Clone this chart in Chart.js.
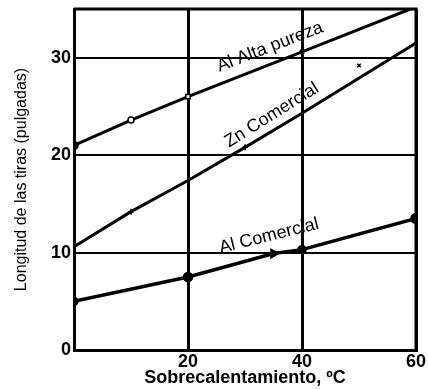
<!DOCTYPE html>
<html>
<head>
<meta charset="utf-8">
<script src="https://cdn.jsdelivr.net/npm/chart.js@4/dist/chart.umd.min.js"></script>
<style>
  html, body { margin: 0; padding: 0; background: #fff; }
  #wrap { width: 428px; height: 389px; }
</style>
</head>
<body>
<div id="wrap"><canvas id="c"></canvas></div>
<script>
// values
const xTicks = [20, 40, 60];
const yTicks = [0, 10, 20, 30];

const alAltaX = [0, 10, 20, 40, 59];
const alAltaY = [21, 23.6, 26, 30.6, 35];

const znX = [0, 10, 20, 30, 40, 60];
const znY = [10.6, 14.2, 17.4, 20.8, 24.3, 31.5];

const alComX = [0, 20, 35, 40, 60];
const alComY = [5, 7.5, 9.9, 10.3, 13.5];

const znExtraX = [50];
const znExtraY = [29.2];

const labels = [
  { text: 'Al Alta pureza', x: 34.4, y: 31.1, angle: -21 },
  { text: 'Zn Comercial', x: 34.7, y: 24.1, angle: -32 },
  { text: 'Al Comercial', x: 34.2, y: 11.7, angle: -14 },
];

const pts = (xs, ys) => xs.map((x, i) => ({ x, y: ys[i] }));

const lineLabels = {
  id: 'lineLabels',
  afterDatasetsDraw(chart) {
    const { ctx, scales } = chart;
    ctx.save();
    ctx.fillStyle = '#000';
    ctx.font = '18px "Liberation Sans", Arial, sans-serif';
    ctx.textAlign = 'center';
    ctx.textBaseline = 'middle';
    labels.forEach((l) => {
      ctx.save();
      ctx.translate(scales.x.getPixelForValue(l.x), scales.y.getPixelForValue(l.y));
      ctx.rotate(l.angle * Math.PI / 180);
      ctx.fillText(l.text, 0, 0);
      ctx.restore();
    });
    ctx.restore();
  },
};

new Chart(document.getElementById('c'), {
  type: 'scatter',
  data: {
    datasets: [
      {
        data: pts(alAltaX, alAltaY),
        showLine: true,
        borderColor: '#000',
        borderWidth: 3,
        pointStyle: ['circle', 'circle', 'rect', 'crossRot', false],
        pointRadius: [4, 3, 3, 3, 0],
        pointBackgroundColor: ['#000', '#fff', '#fff', '#000', '#000'],
        pointBorderColor: '#000',
        pointBorderWidth: 1.5,
      },
      {
        data: pts(znX, znY),
        showLine: true,
        borderColor: '#000',
        borderWidth: 3,
        pointStyle: ['circle', 'cross', 'circle', 'cross', 'circle', 'circle'],
        pointRadius: [0, 3, 0, 3, 0, 0],
        pointBorderColor: '#000',
        pointBorderWidth: 1.5,
      },
      {
        data: pts(alComX, alComY),
        showLine: true,
        borderColor: '#000',
        borderWidth: 3.5,
        pointStyle: ['circle', 'circle', 'triangle', 'circle', 'circle'],
        pointRadius: [3, 3.5, 3, 3, 4],
        pointRotation: [0, 0, 90, 0, 0],
        pointBackgroundColor: '#000',
        pointBorderColor: '#000',
      },
      {
        data: pts(znExtraX, znExtraY),
        pointStyle: 'crossRot',
        pointRadius: 2.5,
        pointBorderColor: '#000',
        pointBorderWidth: 1.5,
      },
    ],
  },
  options: {
    responsive: true,
    maintainAspectRatio: false,
    animation: false,
    layout: { padding: { top: 0, right: 12, left: 0, bottom: 0 } },
    plugins: { legend: { display: false }, tooltip: { enabled: false } },
    scales: {
      x: {
        type: 'linear',
        min: 0,
        max: 60,
        afterBuildTicks: (s) => { s.ticks = xTicks.map((v) => ({ value: v })); },
        afterFit: (s) => { s.height = 39; },
        grid: { color: '#000', lineWidth: 3, drawTicks: false },
        border: { color: '#000', width: 3 },
        ticks: {
          color: '#000',
          padding: 1,
          font: { family: '"Liberation Sans", Arial, sans-serif', size: 18, weight: 'bold' },
        },
        title: {
          display: true,
          text: 'Sobrecalentamiento, ºC',
          color: '#000',
          padding: { top: 0, bottom: 0 },
          font: { family: '"Liberation Sans", Arial, sans-serif', size: 18, weight: 'bold' },
        },
      },
      y: {
        type: 'linear',
        min: 0,
        max: 35,
        afterBuildTicks: (s) => { s.ticks = yTicks.map((v) => ({ value: v })); },
        afterFit: (s) => { s.width = 74; s.paddingTop = 9; },
        grid: { color: '#000', lineWidth: 2, drawTicks: false },
        border: { color: '#000', width: 3 },
        ticks: {
          color: '#000',
          padding: 3,
          font: { family: '"Liberation Sans", Arial, sans-serif', size: 18, weight: 'bold' },
        },
        title: {
          display: true,
          text: 'Longitud de las tiras (pulgadas)',
          color: '#000',
          padding: { top: 12, bottom: 0 },
          font: { family: '"Liberation Sans", Arial, sans-serif', size: 16 },
        },
      },
    },
  },
  plugins: [lineLabels, {
    id: 'frame',
    afterDraw(chart) {
      const { ctx, chartArea: a } = chart;
      ctx.save();
      ctx.strokeStyle = '#000';
      ctx.lineWidth = 3;
      ctx.beginPath();
      ctx.moveTo(a.left, a.top);
      ctx.lineTo(a.right, a.top);
      ctx.lineTo(a.right, a.bottom);
      ctx.stroke();
      ctx.restore();
    },
  }],
});
</script>
</body>
</html>
